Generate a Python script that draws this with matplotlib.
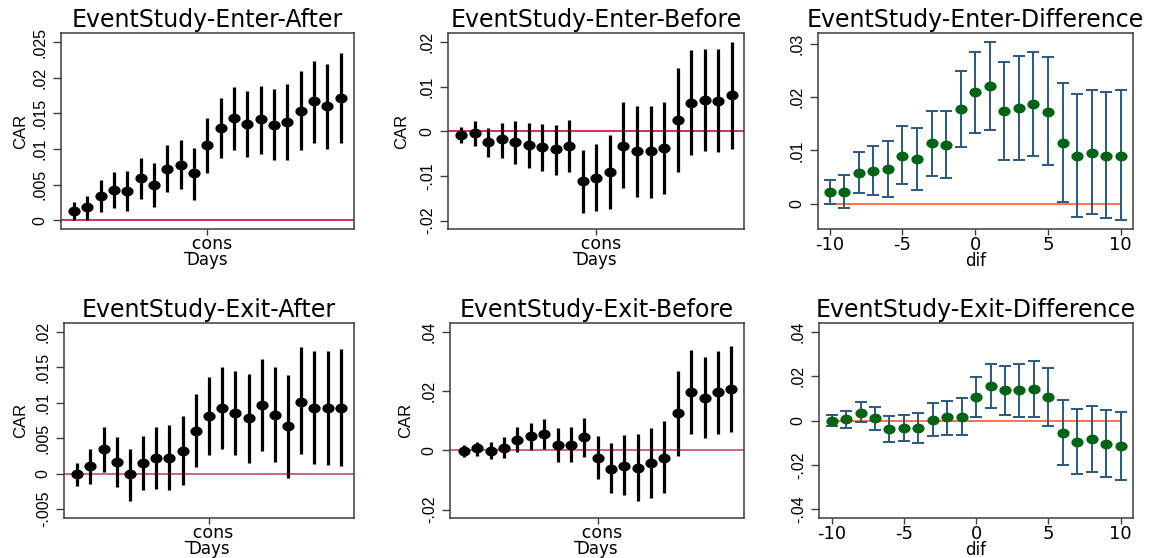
import numpy as np
import matplotlib
matplotlib.use("Agg")
import matplotlib.pyplot as plt
from matplotlib.path import Path
from matplotlib.ticker import FixedLocator, FixedFormatter

# ---------------- data ----------------
days = list(range(-10, 11))

titles = ["EventStudy-Enter-After", "EventStudy-Enter-Before", "EventStudy-Enter-Difference",
          "EventStudy-Exit-After", "EventStudy-Exit-Before", "EventStudy-Exit-Difference"]

enter_after_car = [.0013, .0018, .0034, .0042, .0041, .0059, .0049, .0072, .0078, .0066,
                   .0105, .0130, .0143, .0135, .0142, .0134, .0138, .0154, .0167, .0160, .0171]
enter_after_lo = [.0000, .0000, .0011, .0017, .0013, .0030, .0018, .0039, .0044, .0029,
                  .0066, .0087, .0099, .0089, .0093, .0084, .0084, .0098, .0108, .0100, .0109]
enter_after_hi = [.0025, .0034, .0056, .0068, .0069, .0087, .0081, .0105, .0112, .0102,
                  .0144, .0171, .0187, .0181, .0189, .0184, .0191, .0210, .0224, .0219, .0234]

enter_before_car = [-.0008, -.0003, -.0023, -.0018, -.0023, -.0031, -.0035, -.0040, -.0033, -.0112,
                    -.0104, -.0090, -.0032, -.0044, -.0045, -.0038, .0026, .0064, .0070, .0069, .0081]
enter_before_lo = [-.0027, -.0032, -.0057, -.0059, -.0073, -.0083, -.0088, -.0097, -.0092, -.0182,
                   -.0179, -.0173, -.0128, -.0147, -.0149, -.0140, -.0092, -.0054, -.0044, -.0047, -.0039]
enter_before_hi = [.0009, .0024, .0008, .0020, .0024, .0020, .0017, .0014, .0025, -.0041,
                   -.0029, -.0009, .0065, .0057, .0056, .0065, .0142, .0182, .0185, .0186, .0200]

enter_diff = [.0022, .0022, .0058, .0062, .0065, .0090, .0084, .0113, .0111, .0178,
              .0209, .0221, .0174, .0180, .0187, .0172, .0113, .0090, .0096, .0090, .0090]
enter_diff_lo = [.0000, -.0009, .0019, .0016, .0013, .0036, .0026, .0052, .0048, .0106,
                 .0133, .0138, .0081, .0082, .0089, .0072, .0002, -.0026, -.0019, -.0028, -.0031]
enter_diff_hi = [.0044, .0054, .0097, .0108, .0118, .0145, .0143, .0174, .0175, .0250,
                 .0286, .0304, .0267, .0278, .0286, .0275, .0226, .0206, .0213, .0209, .0214]

exit_after_car = [-.0001, .0011, .0034, .0016, -.0001, .0015, .0022, .0022, .0032, .0060,
                  .0081, .0093, .0086, .0078, .0097, .0083, .0067, .0101, .0093, .0092, .0093]
exit_after_lo = [-.0018, -.0014, .0002, -.0019, -.0038, -.0023, -.0022, -.0023, -.0016, .0009,
                 .0026, .0035, .0026, .0015, .0032, .0016, -.0006, .0027, .0014, .0012, .0011]
exit_after_hi = [.0015, .0035, .0066, .0052, .0035, .0053, .0065, .0068, .0081, .0112,
                 .0136, .0150, .0145, .0140, .0161, .0150, .0139, .0178, .0173, .0172, .0175]

exit_before_car = [-.0003, .0007, -.0003, .0009, .0035, .0048, .0056, .0018, .0020, .0044,
                   -.0027, -.0061, -.0051, -.0058, -.0043, -.0024, .0125, .0198, .0176, .0197, .0207]
exit_before_lo = [-.0021, -.0018, -.0030, -.0027, -.0004, .0003, .0004, -.0038, -.0038, -.0022,
                  -.0098, -.0145, -.0152, -.0169, -.0162, -.0143, -.0020, .0056, .0042, .0057, .0063]
exit_before_hi = [.0017, .0030, .0028, .0044, .0079, .0091, .0107, .0076, .0080, .0109,
                  .0048, .0024, .0052, .0056, .0076, .0099, .0269, .0339, .0315, .0335, .0353]

exit_diff = [.0000, .0006, .0036, .0011, -.0038, -.0032, -.0033, .0003, .0014, .0018,
             .0108, .0155, .0137, .0137, .0141, .0105, -.0056, -.0095, -.0084, -.0104, -.0114]
exit_diff_lo = [-.0026, -.0032, -.0009, -.0044, -.0096, -.0092, -.0101, -.0068, -.0065, -.0066,
                .0018, .0057, .0026, .0017, .0017, -.0023, -.0203, -.0243, -.0233, -.0254, -.0270]
exit_diff_hi = [.0027, .0044, .0084, .0063, .0021, .0027, .0035, .0078, .0090, .0100,
                .0197, .0255, .0246, .0255, .0267, .0236, .0092, .0054, .0065, .0047, .0039]

yticks_list = [
    [0, .005, .01, .015, .02, .025],
    [-.02, -.01, 0, .01, .02],
    [0, .01, .02, .03],
    [-.005, 0, .005, .01, .015, .02],
    [-.02, 0, .02, .04],
    [-.04, -.02, 0, .02, .04],
]
ylabels_list = [
    ["0", ".005", ".01", ".015", ".02", ".025"],
    ["-.02", "-.01", "0", ".01", ".02"],
    ["0", ".01", ".02", ".03"],
    ["-.005", "0", ".005", ".01", ".015", ".02"],
    ["-.02", "0", ".02", ".04"],
    ["-.04", "-.02", "0", ".02", ".04"],
]
diff_xticks = [-10, -5, 0, 5, 10]
diff_xticklabels = ["-10", "-5", "0", "5", "10"]

# ---------------- layout ----------------
W, H = 1166, 558
fig = plt.figure(figsize=(W / 100, H / 100), dpi=100)

# pixel boxes: left, right, top, bottom
boxes = [
    (61, 354, 33, 229), (448, 744, 33, 229), (818, 1133, 33, 229),
    (64, 354, 323, 518), (450, 744, 323, 518), (819, 1133, 323, 518),
]
ylims = [(-0.00122, 0.02627), (-0.0219, 0.0221), (-0.0048, 0.0321),
         (-0.00624, 0.0212), (-0.0228, 0.043), (-0.044, 0.044)]
xlims = [(-10.98, 11.0), (-10.96, 10.9), (-10.8, 10.84),
         (-11.0, 11.0), (-11.05, 10.95), (-10.88, 10.86)]
car_x = [-0.113, -0.132, None, -0.124, -0.126, None]

# elliptical marker (source image is horizontally stretched)
t = np.linspace(0, 2 * np.pi, 60)
ell = Path(np.column_stack([1.25 * np.cos(t), np.sin(t)]), closed=True)

HFONT = "DejaVu Sans"
VFONT = "Liberation Sans"
FRAME = "#3c3c3c"

series = [
    (enter_after_car, enter_after_lo, enter_after_hi),
    (enter_before_car, enter_before_lo, enter_before_hi),
    (enter_diff, enter_diff_lo, enter_diff_hi),
    (exit_after_car, exit_after_lo, exit_after_hi),
    (exit_before_car, exit_before_lo, exit_before_hi),
    (exit_diff, exit_diff_lo, exit_diff_hi),
]

for i in range(6):
    l, r, tp, bt = boxes[i]
    ax = fig.add_axes([l / W, 1 - bt / H, (r - l) / W, (bt - tp) / H])
    m, lo, hi = [np.array(a) for a in series[i]]
    x = np.array(days)
    is_diff = i in (2, 5)
    if is_diff:
        ax.plot([days[0], days[-1]], [0, 0], color="#ff4a12", lw=1.1, zorder=1)
        ax.errorbar(x, m, yerr=[m - lo, hi - m], fmt="none", ecolor="#2a5880",
                    elinewidth=1.4, capsize=4.0, capthick=1.4, zorder=2)
        ax.plot(x, m, linestyle="none", marker=ell, markersize=8.8,
                color="#006414", markeredgewidth=0, zorder=3)
        ax.xaxis.set_major_locator(FixedLocator(diff_xticks))
        ax.xaxis.set_major_formatter(FixedFormatter(diff_xticklabels))
        ax.set_xlabel("dif", fontsize=12, family=HFONT, labelpad=-1.5)
        xpad, xls = 1.0, 13
    else:
        zc = "#c80a3c" if i < 3 else "#d0466a"
        ax.axhline(0, color=zc, lw=1.2, zorder=1)
        ax.vlines(x, lo, hi, color="black", lw=2.3, zorder=2)
        ax.plot(x, m, linestyle="none", marker=ell, markersize=8.8,
                color="black", markeredgewidth=0, zorder=3)
        ax.xaxis.set_major_locator(FixedLocator([0]))
        ax.xaxis.set_major_formatter(FixedFormatter(["_cons"]))
        ax.set_xlabel("Days", fontsize=12, family=HFONT, labelpad=-1.5)
        ax.set_ylabel("CAR", fontsize=12, family=VFONT)
        ax.yaxis.set_label_coords(car_x[i], 0.5)
        xpad, xls = 0.5, 12.5

    ax.set_xlim(*xlims[i])
    ax.set_ylim(*ylims[i])
    ax.yaxis.set_major_locator(FixedLocator(yticks_list[i]))
    ax.yaxis.set_major_formatter(FixedFormatter(ylabels_list[i]))
    ax.tick_params(axis="x", length=4, width=1.0, color=FRAME, pad=xpad, labelsize=xls)
    ax.tick_params(axis="y", length=5.5, width=1.0, color=FRAME, pad=4, labelsize=11.5)
    for lab in ax.get_xticklabels():
        lab.set_family(HFONT)
    for lab in ax.get_yticklabels():
        lab.set_family(VFONT)
        lab.set_rotation(90)
        lab.set_va("center")
    for sp in ax.spines.values():
        sp.set_color(FRAME)
        sp.set_linewidth(1.1)
    ax.set_title(titles[i], fontsize=17, family=HFONT, pad=4)

fig.savefig("out.png", dpi=100)
